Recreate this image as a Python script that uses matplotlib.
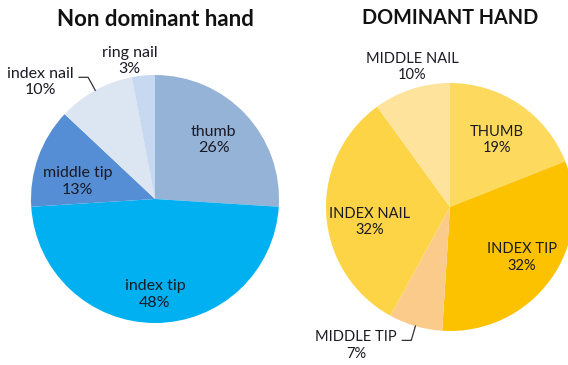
import numpy as np
import matplotlib
matplotlib.use("Agg")
import matplotlib.pyplot as plt

# ---- data -------------------------------------------------------------
nd_title = "Non dominant hand"
nd_labels = ["thumb", "index tip", "middle tip", "index nail", "ring nail"]
nd_values = [26, 48, 13, 10, 3]
nd_colors = ["#95B3D7", "#00B0F0", "#558ED5", "#DCE6F2", "#C6D9F1"]

d_title = "DOMINANT HAND"
d_labels = ["THUMB", "INDEX TIP", "MIDDLE TIP", "INDEX NAIL", "MIDDLE NAIL"]
d_values = [19, 32, 7, 32, 10]
d_colors = ["#FDD95E", "#FCC200", "#FBCB8B", "#FDD445", "#FDE39B"]

# label placement: (radius factor, angle shift in degrees, leader line side)
nd_label_pos = [(0.67, 2, None), (0.77, 0, None), (0.64, 7, None),
                (1.32, 15.5, "left"), (1.13, 5, None)]
d_label_pos = [(0.66, -1, None), (0.71, 1, None), (1.35, -18, "left"),
               (0.66, 7, None), (1.17, -3, None)]

W, H = 568, 365
fig = plt.figure(figsize=(W / 100, H / 100), dpi=100)
ax = fig.add_axes([0, 0, 1, 1])

TEXT_COLOR = "#1A1A24"
LABEL_FONT = ["Lato", "DejaVu Sans"]


def draw_pie(center, radius, values, labels, colors, label_pos, title,
             title_y, title_size, label_size):
    cx, cy = center
    ax.pie(values, colors=colors, startangle=90, counterclock=False,
           center=center, radius=radius,
           wedgeprops=dict(linewidth=0))
    total = float(sum(values))
    cum = 0.0
    for v, lab, (rf, dang, leader) in zip(values, labels, label_pos):
        mid = 90 - 360 * (cum + v / 2) / total
        cum += v
        a = np.deg2rad(mid + dang)
        tx, ty = cx + rf * radius * np.cos(a), cy + rf * radius * np.sin(a)
        ax.text(tx, ty, f"{lab}\n{v}%", ha="center", va="center",
                fontsize=label_size, color=TEXT_COLOR, family=LABEL_FONT,
                linespacing=1.2)
        if leader:
            m = np.deg2rad(mid)
            x0, y0 = cx + radius * np.cos(m), cy + radius * np.sin(m)
            x1, y1 = cx + 1.12 * radius * np.cos(m), cy + 1.12 * radius * np.sin(m)
            x2 = x1 - 9
            ax.plot([x0, x1, x2], [y0, y1, y1], color="#333333", lw=0.9,
                    solid_joinstyle="miter")
    ax.text(cx, title_y, title, ha="center", va="center", fontsize=title_size,
            fontweight="bold", color="#111111", family=LABEL_FONT)


draw_pie((155, H - 199), 124, nd_values, nd_labels, nd_colors,
         nd_label_pos, nd_title, H - 20, 16, 11.5)
draw_pie((450, H - 207), 124, d_values, d_labels, d_colors,
         d_label_pos, d_title, H - 18, 14.2, 10.5)

ax.set_xlim(0, W)
ax.set_ylim(0, H)
ax.set_aspect("auto")
ax.axis("off")

fig.savefig("out.png", dpi=100, facecolor="white")
